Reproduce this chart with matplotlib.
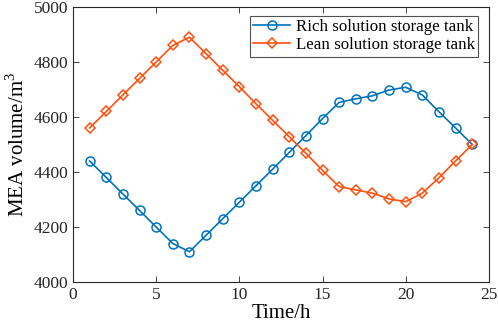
import matplotlib
matplotlib.use("Agg")
import matplotlib.pyplot as plt

hours = list(range(1, 25))
rich = [4440, 4380, 4320, 4260, 4200, 4140, 4110, 4170, 4230, 4290, 4350, 4410,
        4471, 4532, 4594, 4653, 4666, 4677, 4698, 4708, 4680, 4619, 4560, 4500]
lean = [4560, 4620, 4680, 4740, 4800, 4860, 4890, 4830, 4770, 4710, 4648, 4588,
        4528, 4468, 4406, 4347, 4335, 4323, 4302, 4292, 4323, 4379, 4440, 4500]
xticks = [0, 5, 10, 15, 20, 25]
yticks = [4000, 4200, 4400, 4600, 4800, 5000]

plt.rcParams['font.family'] = ['Liberation Serif', 'DejaVu Serif']
plt.rcParams['mathtext.fontset'] = 'custom'
plt.rcParams['mathtext.rm'] = 'Liberation Serif'

fig = plt.figure(figsize=(4.98, 3.31), dpi=100)
ax = fig.add_axes([0.1466, 0.148, 0.835, 0.831])

blue = '#0072BD'
orange = '#FF5010'
ax.plot(hours, rich, '-o', color=blue, lw=1.2, ms=6.5, mfc='none', mew=1.1,
        label='Rich solution storage tank')
ax.plot(hours, lean, '-D', color=orange, lw=1.2, ms=5.5, mfc='none', mew=1.1,
        label='Lean solution storage tank')

ax.set_xlim(0, 25)
ax.set_ylim(4000, 5000)
ax.set_xticks(xticks)
ax.set_yticks(yticks)
ax.tick_params(direction='in', labelsize=12.5, length=4, width=0.6, top=True, right=True,
               colors='#262626')
for s in ax.spines.values():
    s.set_linewidth(0.8)
    s.set_color('#262626')
ax.set_xlabel('Time/h', fontsize=15, labelpad=1)
ax.set_ylabel('MEA volume/m$^3$', fontsize=15, labelpad=3)

leg = ax.legend(loc='upper right', bbox_to_anchor=(0.974, 0.968), fontsize=12.2,
                frameon=True, fancybox=False,
                edgecolor='#262626', borderpad=0.2, handlelength=2.2, handletextpad=0.3,
                labelspacing=0.12, borderaxespad=0.0)
leg.get_frame().set_linewidth(0.8)

fig.savefig('out.png', dpi=100)
